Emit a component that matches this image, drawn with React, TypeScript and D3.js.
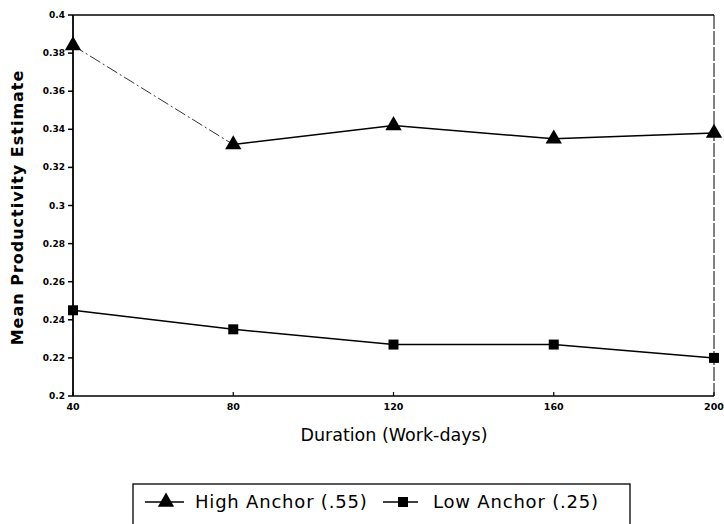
import React from "react";
import * as d3 from "d3";

const durations = [40, 80, 120, 160, 200];
const highAnchor = [0.384, 0.332, 0.342, 0.335, 0.338];
const lowAnchor = [0.245, 0.235, 0.227, 0.227, 0.22];
const yTicks = [0.2, 0.22, 0.24, 0.26, 0.28, 0.3, 0.32, 0.34, 0.36, 0.38, 0.4];
const seriesNames = ["High Anchor (.55)", "Low Anchor (.25)"];

const W = 724, H = 524;
const left = 73, right = 714, top = 15, bottom = 396;

export default function App() {
  const x = d3.scaleLinear().domain([40, 200]).range([left, right]);
  const y = d3.scaleLinear().domain([0.2, 0.4]).range([bottom, top]);
  const line = d3.line<[number, number]>().x((p) => x(p[0])).y((p) => y(p[1]));
  const highPts: [number, number][] = durations.map((d, i) => [d, highAnchor[i]]);
  const lowPts: [number, number][] = durations.map((d, i) => [d, lowAnchor[i]]);
  const tri = d3.symbol().type(d3.symbolTriangle).size(115)() as string;
  const sq = (s: number) => `M${-s},${-s}h${2 * s}v${2 * s}h${-2 * s}Z`;
  const fmt = (v: number) => (Math.round(v * 100) / 100).toString();
  const font = "DejaVu Sans, sans-serif";

  return (
    <svg width={W} height={H} style={{ position: "absolute", left: 0, top: 0, background: "#fff" }}>
      {/* frame */}
      <line x1={left} y1={top} x2={right} y2={top} stroke="#000" strokeWidth={1.5} />
      <line x1={left} y1={top} x2={left} y2={bottom} stroke="#000" strokeWidth={1.8} />
      <line x1={left} y1={bottom} x2={right} y2={bottom} stroke="#000" strokeWidth={1.5} />
      <line x1={right} y1={top} x2={right} y2={bottom} stroke="#000" strokeWidth={1} strokeDasharray="14,2" />
      {/* y ticks */}
      {yTicks.map((t) => (
        <g key={t}>
          <line x1={left - 5} x2={left} y1={y(t)} y2={y(t)} stroke="#000" strokeWidth={1.5} />
          <text x={left - 8} y={y(t) + 3} textAnchor="end" fontFamily={font} fontWeight="bold" fontSize={9}>
            {fmt(t)}
          </text>
        </g>
      ))}
      {/* x ticks */}
      {durations.map((d) => (
        <g key={d}>
          <line x1={x(d)} x2={x(d)} y1={bottom} y2={bottom - 4} stroke="#000" strokeWidth={1.2} />
          <text x={x(d)} y={bottom + 14} textAnchor="middle" fontFamily={font} fontWeight="bold" fontSize={9.5}>
            {d}
          </text>
        </g>
      ))}
      {/* high series */}
      <path
        d={line(highPts.slice(0, 2)) as string}
        fill="none"
        stroke="#000"
        strokeWidth={1}
        strokeDasharray="12,3,2,3"
        opacity={0.8}
      />
      <path d={line(highPts.slice(1)) as string} fill="none" stroke="#000" strokeWidth={1.5} />
      {highPts.map((p, i) => (
        <path key={i} d={tri} transform={`translate(${x(p[0])},${y(p[1])})`} fill="#000" />
      ))}
      {/* low series */}
      <path d={line(lowPts) as string} fill="none" stroke="#000" strokeWidth={1.5} />
      {lowPts.map((p, i) => (
        <path key={i} d={sq(5)} transform={`translate(${x(p[0])},${y(p[1])})`} fill="#000" />
      ))}
      {/* axis titles */}
      <text x={394} y={441} textAnchor="middle" fontFamily={font} fontSize={17.5}>
        Duration (Work-days)
      </text>
      <text
        transform={`translate(23,${(top + bottom) / 2 + 2}) rotate(-90)`}
        textAnchor="middle"
        fontFamily={font}
        fontSize={16}
        fontWeight="bold"
        letterSpacing={1}
      >
        Mean Productivity Estimate
      </text>
      {/* legend */}
      <rect x={133} y={484} width={497} height={50} fill="none" stroke="#000" strokeWidth={1.3} />
      <line x1={145} x2={184} y1={502} y2={502} stroke="#000" strokeWidth={1.5} />
      <path d={tri} transform="translate(166,502)" fill="#000" />
      <text x={195} y={508} fontFamily={font} fontSize={18} letterSpacing={0.8}>
        {seriesNames[0]}
      </text>
      <line x1={383} x2={418} y1={502} y2={502} stroke="#000" strokeWidth={1.5} />
      <path d={sq(5)} transform="translate(403,502)" fill="#000" />
      <text x={433} y={508} fontFamily={font} fontSize={18} letterSpacing={0.8}>
        {seriesNames[1]}
      </text>
    </svg>
  );
}
